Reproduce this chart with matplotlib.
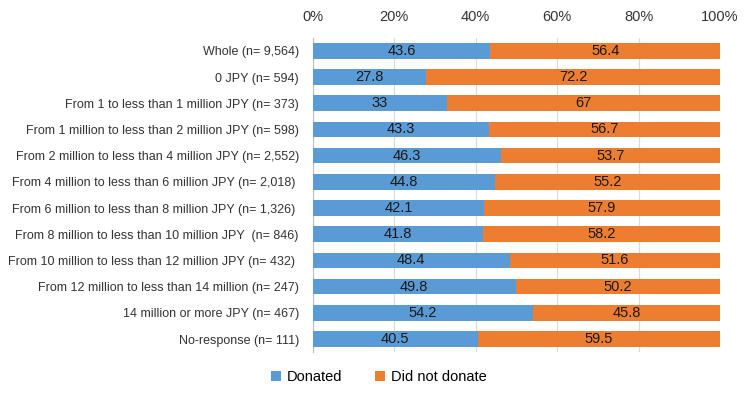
import matplotlib.pyplot as plt
from matplotlib.ticker import PercentFormatter

categories = [
    "Whole (n= 9,564)",
    "0 JPY (n= 594)",
    "From 1 to less than 1 million JPY (n= 373)",
    "From 1 million to less than 2 million JPY (n= 598)",
    "From 2 million to less than 4 million JPY (n= 2,552)",
    "From 4 million to less than 6 million JPY (n= 2,018) ",
    "From 6 million to less than 8 million JPY (n= 1,326) ",
    "From 8 million to less than 10 million JPY  (n= 846)",
    "From 10 million to less than 12 million JPY (n= 432) ",
    "From 12 million to less than 14 million (n= 247)",
    "14 million or more JPY (n= 467)",
    "No-response (n= 111)",
]
donated = [43.6, 27.8, 33, 43.3, 46.3, 44.8, 42.1, 41.8, 48.4, 49.8, 54.2, 40.5]
not_donated = [56.4, 72.2, 67, 56.7, 53.7, 55.2, 57.9, 58.2, 51.6, 50.2, 45.8, 59.5]

plt.rcParams["font.family"] = ["Liberation Sans", "DejaVu Sans"]

fig = plt.figure(figsize=(7.5, 3.97), dpi=100)
ax = fig.add_axes([0.417, 0.113, 0.543, 0.792])

y = list(range(len(categories)))
b1 = ax.barh(y, donated, height=0.6, color="#5B9BD5", label="Donated", zorder=3)
b2 = ax.barh(y, not_donated, left=donated, height=0.6, color="#ED7D31",
             label="Did not donate", zorder=3)
ax.bar_label(b1, labels=[f"{v:g}" for v in donated], label_type="center", fontsize=10.5, color="#1a1a1a")
ax.bar_label(b2, labels=[f"{v:g}" for v in not_donated], label_type="center", fontsize=10.5, color="#1a1a1a")

ax.set_xlim(0, 100)
ax.set_ylim(len(categories) - 0.5, -0.5)
ax.set_yticks(y)
ax.set_yticklabels(categories, fontsize=9.0, color="#333333")
ax.set_xticks(range(0, 101, 20))
ax.xaxis.set_major_formatter(PercentFormatter(decimals=0))
ax.xaxis.tick_top()
ax.tick_params(axis="x", length=0, labelsize=10.5, colors="#333333", pad=10)
ax.tick_params(axis="y", length=0, pad=10)
ax.grid(axis="x", color="#D9D9D9", linewidth=0.8, zorder=0)
for s in ["top", "right", "bottom"]:
    ax.spines[s].set_visible(False)
ax.spines["left"].set_color("#BFBFBF")

fig.legend(loc="lower center", bbox_to_anchor=(0.505, 0.0), ncol=2, frameon=False,
           fontsize=10.5, handlelength=0.7, handleheight=0.7, columnspacing=2.2,
           handletextpad=0.4)

fig.savefig("out.png", dpi=100)
